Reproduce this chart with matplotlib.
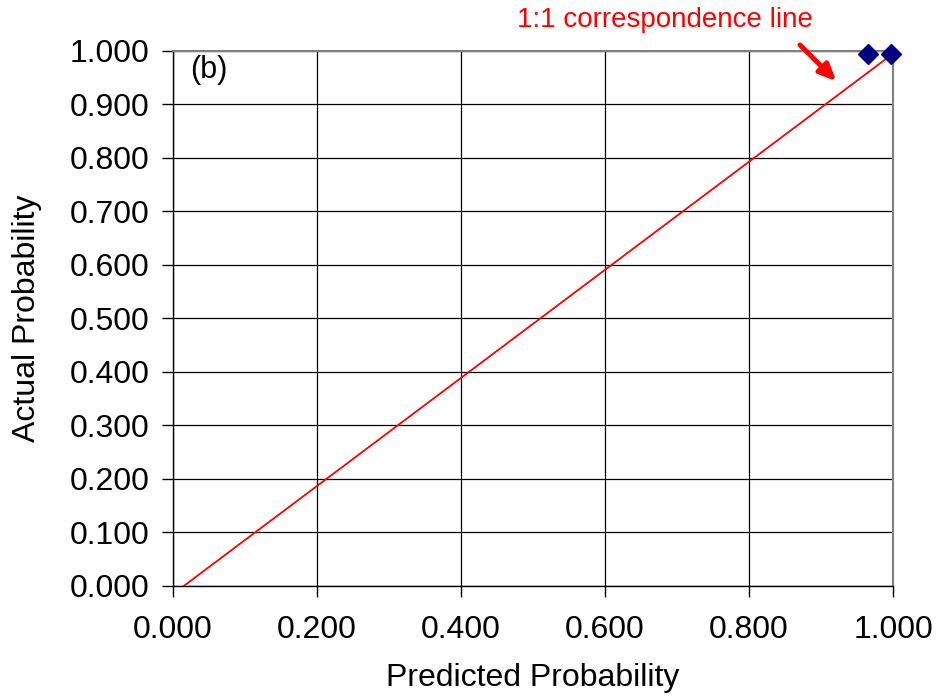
import matplotlib
matplotlib.use('Agg')
import matplotlib.pyplot as plt
import numpy as np

# data
pred = [0.965, 0.997]
actual = [0.995, 0.995]
line_x = [0.015, 1.0]
line_y = [0.0, 0.995]
ticks = np.arange(0, 1.01, 0.1)
xticks = np.arange(0, 1.01, 0.2)

plt.rcParams['font.family'] = ['Liberation Sans', 'DejaVu Sans']

fig = plt.figure(figsize=(9.4, 6.98), dpi=100)
ax = fig.add_axes([0.184, 0.1605, 0.766, 0.7665])

ax.plot(line_x, line_y, color='red', lw=1.3, zorder=3)
ax.plot(pred, actual, 'D', color='#000080', markersize=10, clip_on=False, zorder=4)

ax.set_xlim(0, 1)
ax.set_ylim(0, 1)
ax.set_xticks(xticks)
ax.set_yticks(ticks)
ax.set_xticklabels(['%.3f' % v for v in xticks], fontsize=23)
ax.set_yticklabels(['%.3f' % v for v in ticks], fontsize=23)
ax.tick_params(axis='y', direction='out', length=8, width=1, pad=9)
ax.tick_params(axis='x', direction='out', length=8, width=1, pad=13)
ax.grid(True, color='black', lw=0.9)
ax.set_axisbelow(True)
for s in ['top', 'right']:
    ax.spines[s].set_color('gray')
    ax.spines[s].set_linewidth(1.5)
for s in ['left', 'bottom']:
    ax.spines[s].set_linewidth(1)

ax.set_xlabel('Predicted Probability', fontsize=23, labelpad=13)
ax.set_ylabel('Actual Probability', fontsize=23, labelpad=20)

ax.text(0.024, 0.965, '(b)', fontsize=22, va='center', ha='left')
ax.annotate('1:1 correspondence line', xy=(0.924, 0.94), xytext=(0.683, 1.058),
            textcoords='data', color='red', fontsize=20, ha='center', va='center',
            annotation_clip=False)
ax.annotate('', xy=(0.924, 0.94), xytext=(0.868, 1.015), annotation_clip=False,
            arrowprops=dict(arrowstyle='-|>,head_length=1.0,head_width=0.45', color='red', lw=3.5))

fig.savefig('out.png', dpi=100)
